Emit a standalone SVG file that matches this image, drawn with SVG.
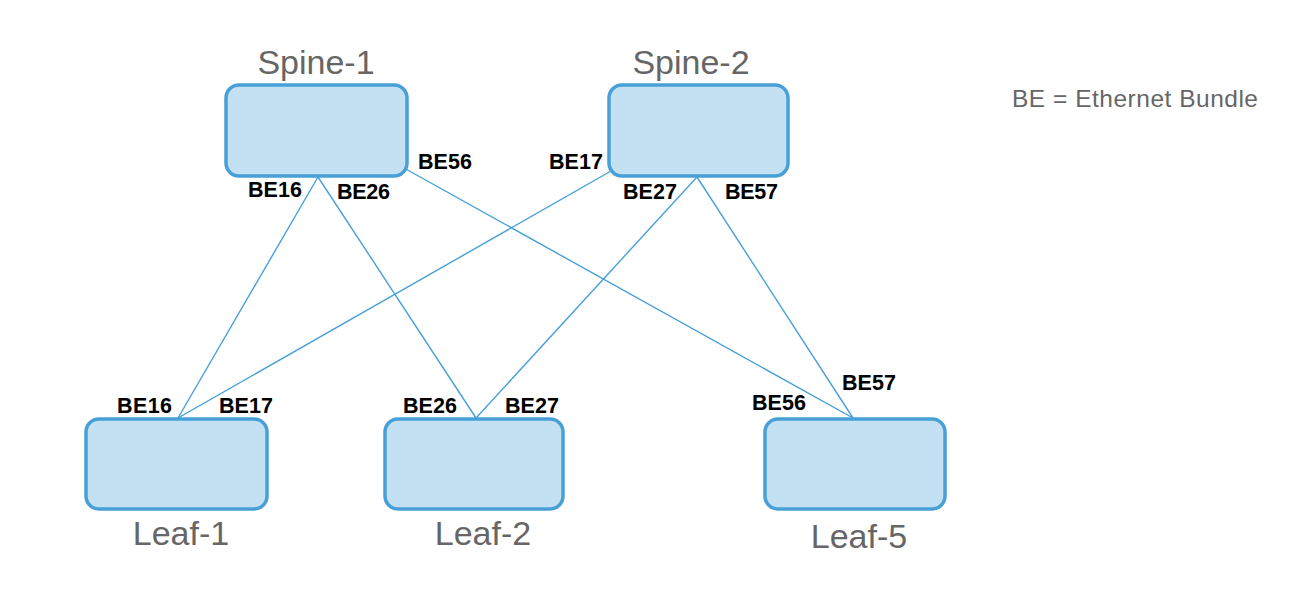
<svg xmlns="http://www.w3.org/2000/svg" width="1302" height="608" viewBox="0 0 1302 608">
<style>
.box{fill:#c4e0f3;stroke:#47a0d8;stroke-width:3.5}
.name{font-family:"Liberation Sans",Arial,sans-serif;font-size:34px;fill:#666666}
.be{font-family:"Liberation Sans",Arial,sans-serif;font-size:21.5px;font-weight:bold;fill:#000}
.link{stroke:#47a0d8;stroke-width:1.4;fill:none}
</style>
<rect width="1302" height="608" fill="#ffffff"/>
<g id="connectors">
<line class="link" x1="318" y1="177" x2="178" y2="418"/>
<line class="link" x1="318" y1="177" x2="476" y2="418"/>
<line class="link" x1="404" y1="168" x2="853" y2="418"/>
<line class="link" x1="611" y1="171" x2="178" y2="418"/>
<line class="link" x1="697" y1="177" x2="476" y2="418"/>
<line class="link" x1="697" y1="177" x2="853" y2="418"/>
</g>
<g id="spine1">
<rect class="box" x="226" y="85" width="181" height="91" rx="13"/>
<text class="name" x="316" y="74" text-anchor="middle">Spine-1</text>
</g>
<g id="spine2">
<rect class="box" x="609" y="85" width="179" height="91" rx="13"/>
<text class="name" x="691" y="74" text-anchor="middle">Spine-2</text>
</g>
<g id="leaf1">
<rect class="box" x="86" y="419" width="181" height="90" rx="13"/>
<text class="name" x="181" y="545" text-anchor="middle">Leaf-1</text>
</g>
<g id="leaf2">
<rect class="box" x="385" y="419" width="178" height="90" rx="13"/>
<text class="name" x="483" y="545" text-anchor="middle">Leaf-2</text>
</g>
<g id="leaf5">
<rect class="box" x="765" y="419" width="180" height="90" rx="13"/>
<text class="name" x="859" y="548" text-anchor="middle">Leaf-5</text>
</g>
<g id="labels">
<text class="be" x="248" y="197" textLength="54">BE16</text>
<text class="be" x="337" y="199" textLength="53">BE26</text>
<text class="be" x="418" y="169" textLength="54">BE56</text>
<text class="be" x="549" y="169" textLength="54">BE17</text>
<text class="be" x="623" y="199" textLength="54">BE27</text>
<text class="be" x="725" y="199" textLength="53">BE57</text>
<text class="be" x="117" y="413" textLength="55">BE16</text>
<text class="be" x="219" y="413" textLength="54">BE17</text>
<text class="be" x="403" y="413" textLength="54">BE26</text>
<text class="be" x="505" y="413" textLength="54">BE27</text>
<text class="be" x="752" y="410" textLength="54">BE56</text>
<text class="be" x="842" y="390" textLength="54">BE57</text>
</g>
<g id="legend">
<text x="1012" y="107" font-family="Liberation Sans,Arial,sans-serif" font-size="24.5" fill="#666666" textLength="246">BE = Ethernet Bundle</text>
</g>
</svg>
